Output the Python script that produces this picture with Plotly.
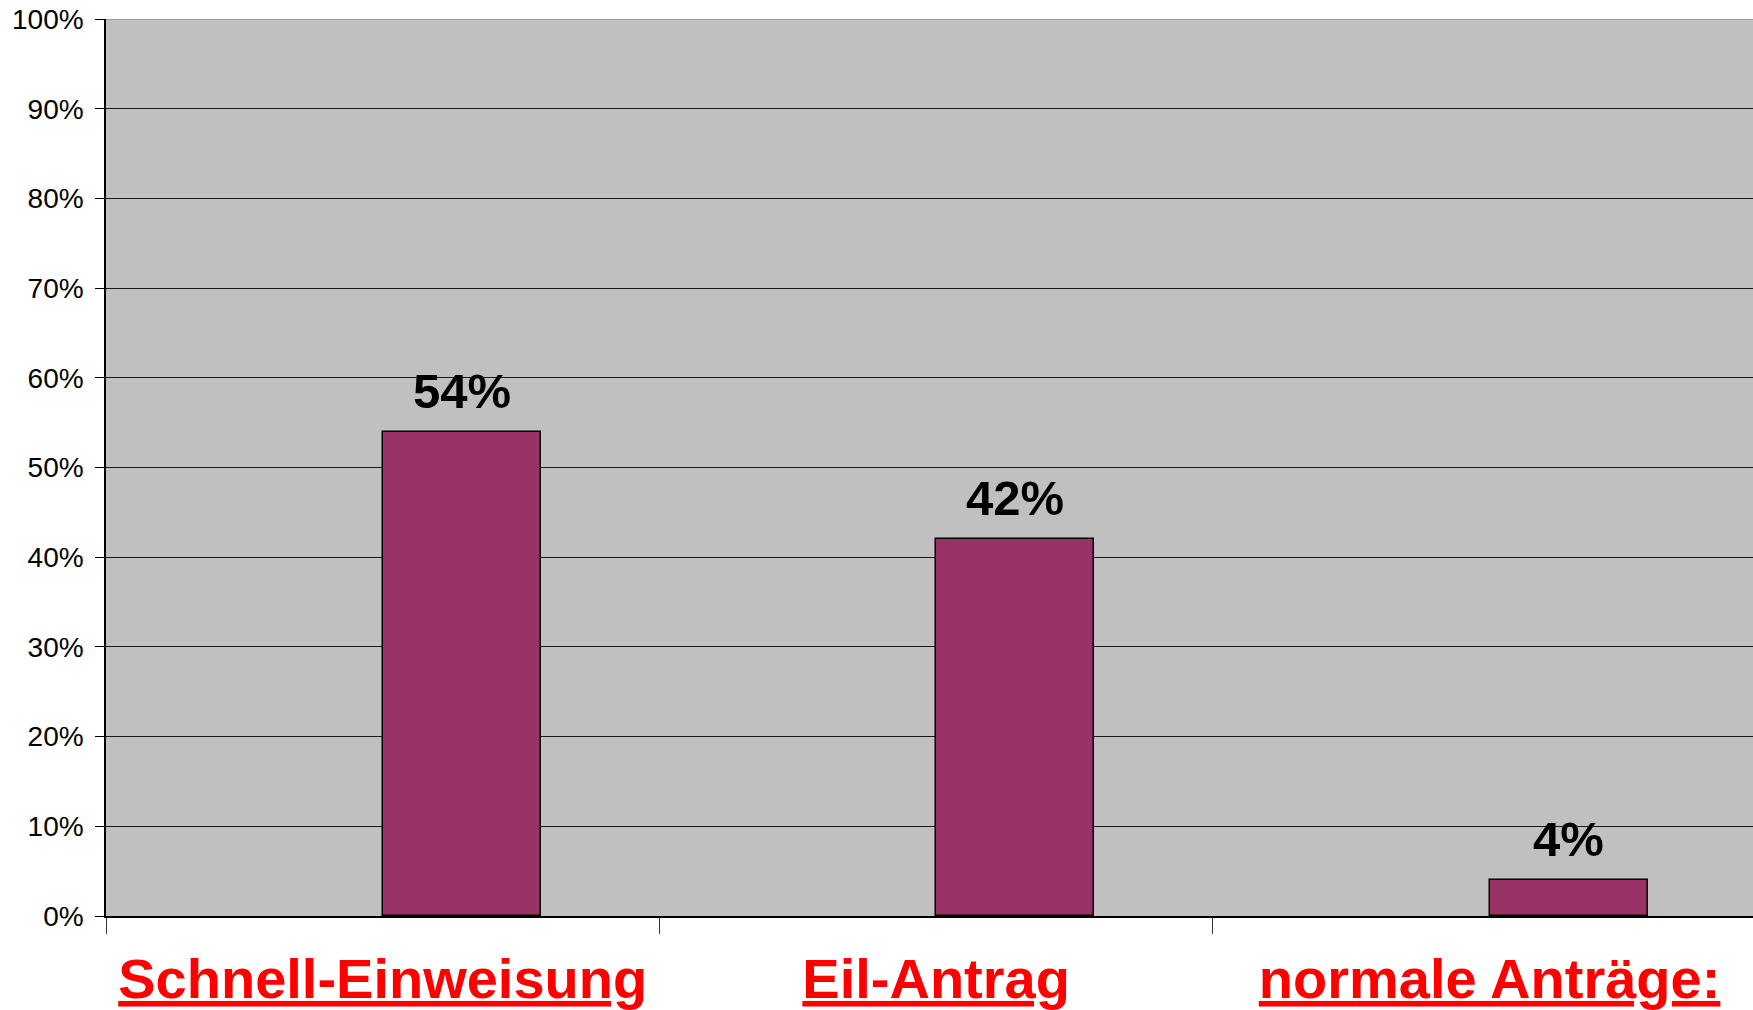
import plotly.graph_objects as go

categories = ["Schnell-Einweisung", "Eil-Antrag", "normale Anträge:"]
values = [0.54, 0.42, 0.04]
value_labels = ["54%", "42%", "4%"]
y_ticks = [0, 0.1, 0.2, 0.3, 0.4, 0.5, 0.6, 0.7, 0.8, 0.9, 1.0]

bar_width = 0.2857
xs = list(range(len(categories)))

fig = go.Figure()
fig.add_trace(go.Bar(
    x=xs, y=values, width=bar_width, offset=0,
    marker=dict(color="#993366", line=dict(color="#000000", width=1.5)),
    hoverinfo="skip",
))

for i, (v, t) in enumerate(zip(values, value_labels)):
    fig.add_annotation(
        x=xs[i] + bar_width / 2, y=v, text="<b>" + t + "</b>",
        showarrow=False, yanchor="bottom", yshift=12,
        font=dict(family="Liberation Sans, Arial", size=49, color="#000000"),
    )

fig.add_shape(type="line", xref="paper", yref="y", x0=0, x1=1, y0=1, y1=1,
              line=dict(color="#999999", width=2))

fig.update_layout(
    width=1753, height=1010,
    margin=dict(l=106, r=0, t=19, b=94),
    paper_bgcolor="#FFFFFF", plot_bgcolor="#C0C0C0",
    showlegend=False, bargap=0,
    xaxis=dict(
        range=[-0.5, 2.476], tickmode="array", tickvals=xs,
        ticktext=["<b><u>" + c + "</u></b>" for c in categories],
        tickfont=dict(family="Liberation Sans, Arial", size=56, color="#FF0000"),
        ticks="", ticklen=0, showgrid=False, zeroline=False,
        showline=True, linecolor="#000000", linewidth=1.5,
        ticklabelstandoff=13, automargin=False, ticklabeloverflow="allow",
        minor=dict(tick0=-0.5, dtick=1, ticks="outside", ticklen=16,
                   tickcolor="#333333", tickwidth=1, showgrid=False),
    ),
    yaxis=dict(
        range=[0, 1.0], tickmode="array", tickvals=y_ticks, tickformat=".0%",
        tickfont=dict(family="Liberation Sans, Arial", size=28, color="#000000"),
        ticks="outside", ticklen=9, tickcolor="#000000", tickwidth=1,
        showgrid=True, gridcolor="#1a1a1a", gridwidth=1, zeroline=False,
        showline=True, linecolor="#000000", linewidth=1.5,
        ticklabelstandoff=6, automargin=False, ticklabeloverflow="allow",
    ),
)

fig.write_html(
    "out.html",
    config={"displayModeBar": False},
    post_script="document.body.style.margin='0';document.body.style.overflow='hidden';",
)
